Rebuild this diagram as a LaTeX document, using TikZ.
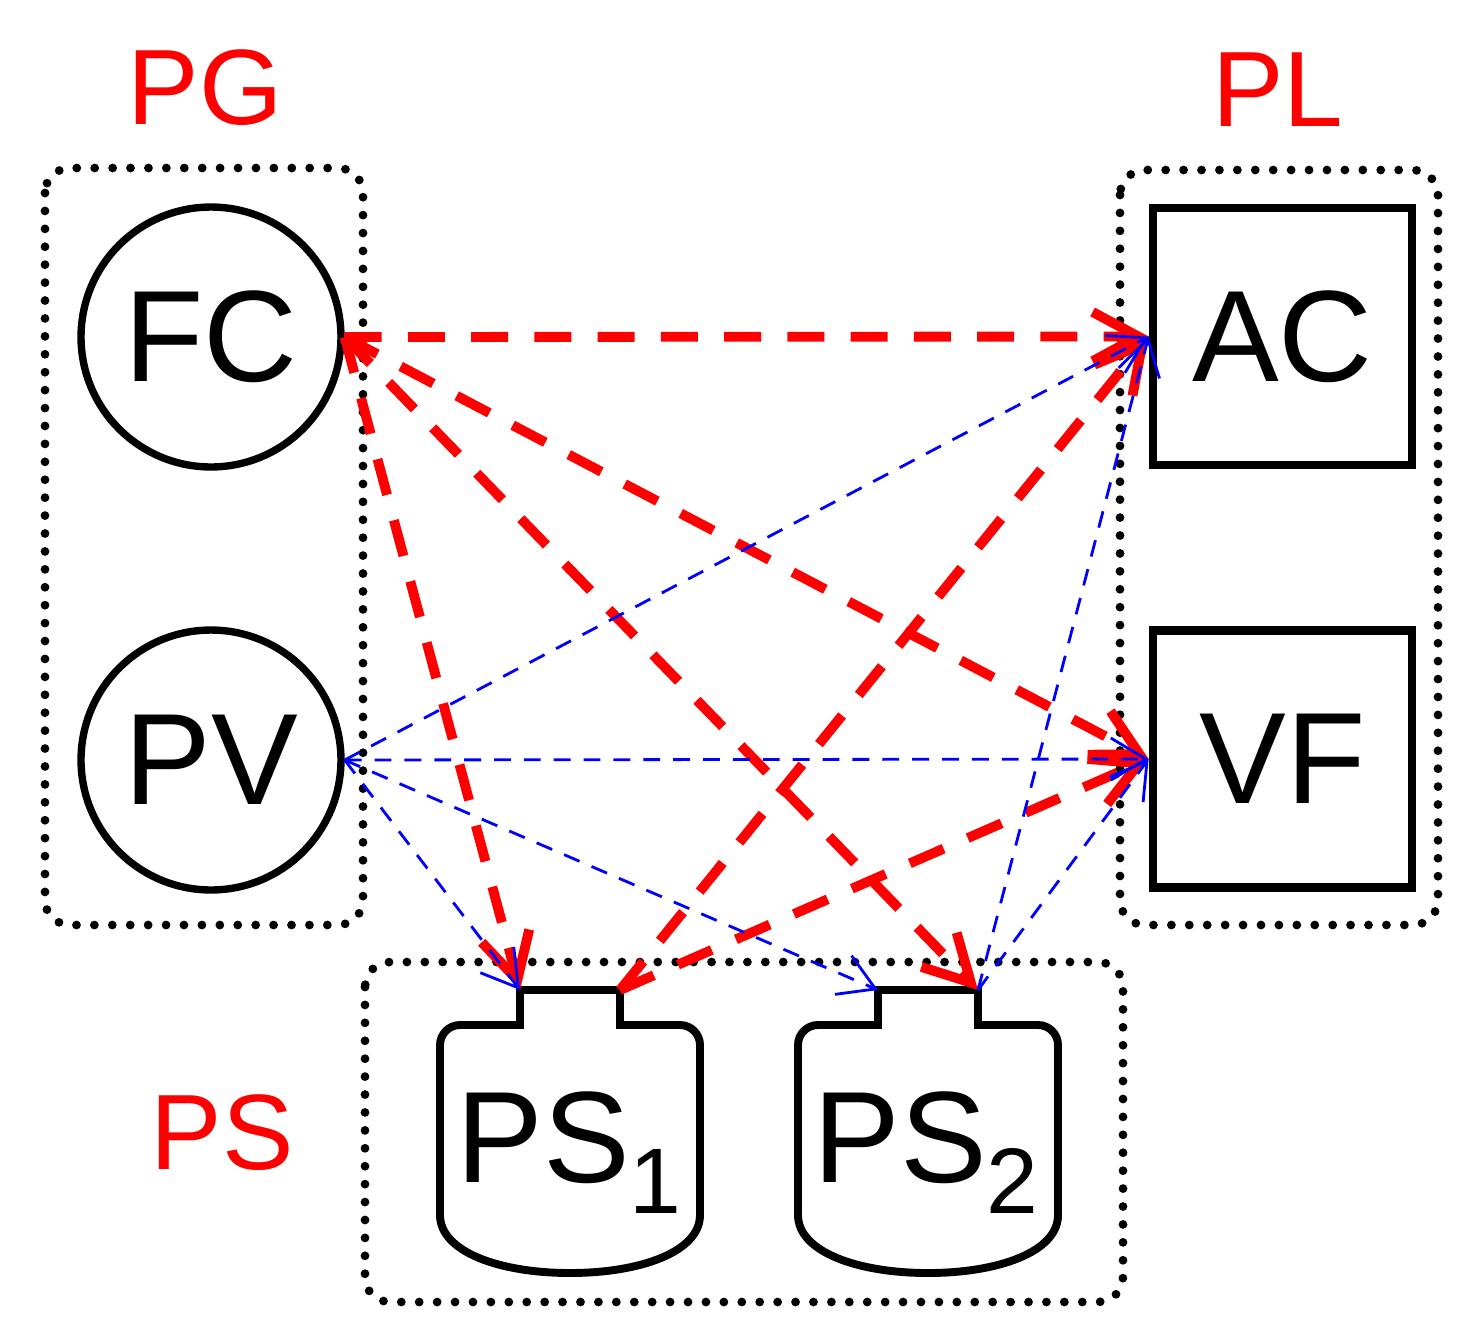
\documentclass[tikz,border=0pt]{standalone}
\usepackage{fontspec}
\setmainfont{Liberation Sans}
\usetikzlibrary{arrows.meta}

\begin{document}
\begin{tikzpicture}[x=0.02cm, y=-0.02cm,
        dotbox/.style={line width=5pt, line cap=round, dash pattern=on 0pt off 10.2pt, rounded corners=0.5cm},
        grouplabel/.style={red, inner sep=0pt, font=\fontsize{61}{64}\selectfont},
        source/.style={circle, draw, line width=4.2pt, minimum size=5.2cm, inner sep=0pt, font=\fontsize{74}{80}\selectfont},
        load/.style={rectangle, draw, line width=5pt, minimum width=5.18cm, minimum height=5.14cm, inner sep=0pt, font=\fontsize{74}{80}\selectfont},
        power/.style={red, line width=5.6pt, dash pattern=on 21pt off 15pt, -{Straight Barb[length=26pt,width=28pt]}},
        signal/.style={blue, line width=1.6pt, dash pattern=on 9.6pt off 7.4pt, -{Straight Barb[length=20pt,width=24pt]}},
        tank/.pic={
            \draw[line width=4.5pt, line join=miter] (-50,0) -- (50,0) -- (50,35) -- (110,35)
                .. controls (121,35) and (130,44) .. (130,55) -- (130,225)
                .. controls (130,262) and (70,283) .. (0,283)
                .. controls (-70,283) and (-130,262) .. (-130,225) -- (-130,55)
                .. controls (-130,44) and (-121,35) .. (-110,35) -- (-50,35) -- cycle;
            \coordinate (-nl) at (-50,0);
            \coordinate (-nr) at (50,0);
        }]
        \useasboundingbox (0,0) rectangle (1478,1340);

        % groups
        \draw[dotbox] (45,168) rectangle (363,925);
        \draw[dotbox] (1120,170) rectangle (1438,925);
        \draw[dotbox] (365,962) rectangle (1123,1302);

        \node[grouplabel] (pg) at (205,88) {PG};
        \node[grouplabel] (pl) at (1278,90) {PL};
        \node[grouplabel] (psl) at (222,1133) {PS};

        %%%

        \node[source] (FC) at (211,337) {FC};
        \node[source] (PV) at (211,760) {PV};

        \node[load] (AC) at (1282.5,336.5) {AC};
        \node[load] (VF) at (1282.5,759) {VF};

        \pic (ps1) at (570,990) {tank};
        \pic (ps2) at (928,990) {tank};

        \node[anchor=base west, inner sep=0pt, font=\fontsize{74}{80}\selectfont] (ps1-label) at (456,1182)
            {PS\raisebox{-18pt}{\fontsize{53}{53}\selectfont 1}};
        \node[anchor=base west, inner sep=0pt, font=\fontsize{74}{80}\selectfont] (ps2-label) at (813,1182)
            {PS\raisebox{-18pt}{\fontsize{53}{53}\selectfont 2}};

        %%%

        \draw[power] (FC.east) -- (AC.west);
        \draw[power] (FC.east) -- (VF.west);
        \draw[power] (FC.east) -- (ps1-nl);
        \draw[power] (FC.east) -- (ps2-nr);
        \draw[power] (ps1-nr) -- (AC.west);
        \draw[power] (ps1-nr) -- (VF.west);

        \draw[signal] (PV.east) -- (AC.west);
        \draw[signal] (PV.east) -- (VF.west);
        \draw[signal] (PV.east) -- (ps1-nl);
        \draw[signal] (PV.east) -- (ps2-nl);
        \draw[signal] (ps2-nr) -- (AC.west);
        \draw[signal] (ps2-nr) -- (VF.west);
    \end{tikzpicture}
\end{document}
